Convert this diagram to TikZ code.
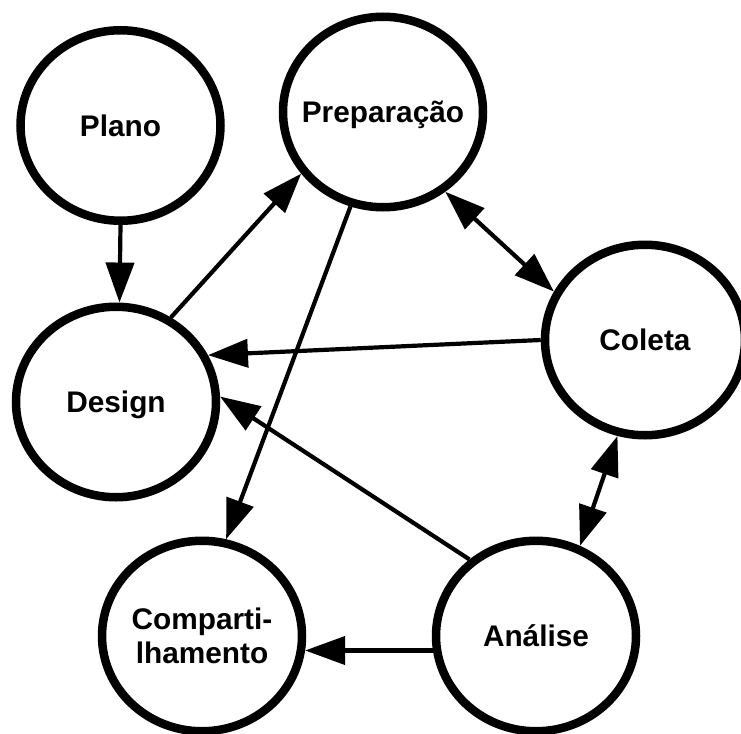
\documentclass[tikz,border=0pt]{standalone}
\usepackage{fontspec}
\setmainfont{Liberation Sans}
\usetikzlibrary{arrows.meta,shapes.geometric}
\tikzset{
  stage/.style={ellipse,draw=black,line width=8.5pt,minimum width=200pt,minimum height=190.5pt,
    inner sep=0pt,font=\fontsize{29.8}{34}\selectfont\bfseries,align=center},
  onel/.style={text height=21.3pt,text depth=0pt},
  conn/.style={line width=4.2pt,-{Triangle[length=40pt,width=28pt]}},
  biconn/.style={line width=4.2pt,{Triangle[length=40pt,width=28pt]}-{Triangle[length=40pt,width=28pt]}}
}
\begin{document}
\begin{tikzpicture}[x=1pt,y=-1pt]
\clip (0,0) rectangle (741,733);
\fill[white] (0,0) rectangle (741,733);
\node[stage,onel] (plano) at (120.5,125.5) {Plano};
\node[stage,onel] (prep) at (383,112) {\makebox[0pt]{Preparação}};
\node[stage,onel] (coleta) at (645,340) {Coleta};
\node[stage,onel] (design) at (116,402) {Design};
\node[stage] (comp) at (202,636) {Comparti-\\lhamento};
\node[stage,onel] (ana) at (536,636) {Análise};
\draw[conn] (plano.-90) -- (design.88);
\draw[conn] (design.57) -- (prep.217);
\draw[conn] (prep.-109) -- (comp.76.6);
\draw[conn] (coleta.180) -- (design.27);
\draw[conn] (ana.131) -- (design.3);
\draw[conn] (ana.188.2) -- (comp.-8.2);
\draw[biconn] (prep.-52) -- (coleta.152);
\draw[biconn] (coleta.-106.4) -- (ana.64.2);
\end{tikzpicture}
\end{document}
